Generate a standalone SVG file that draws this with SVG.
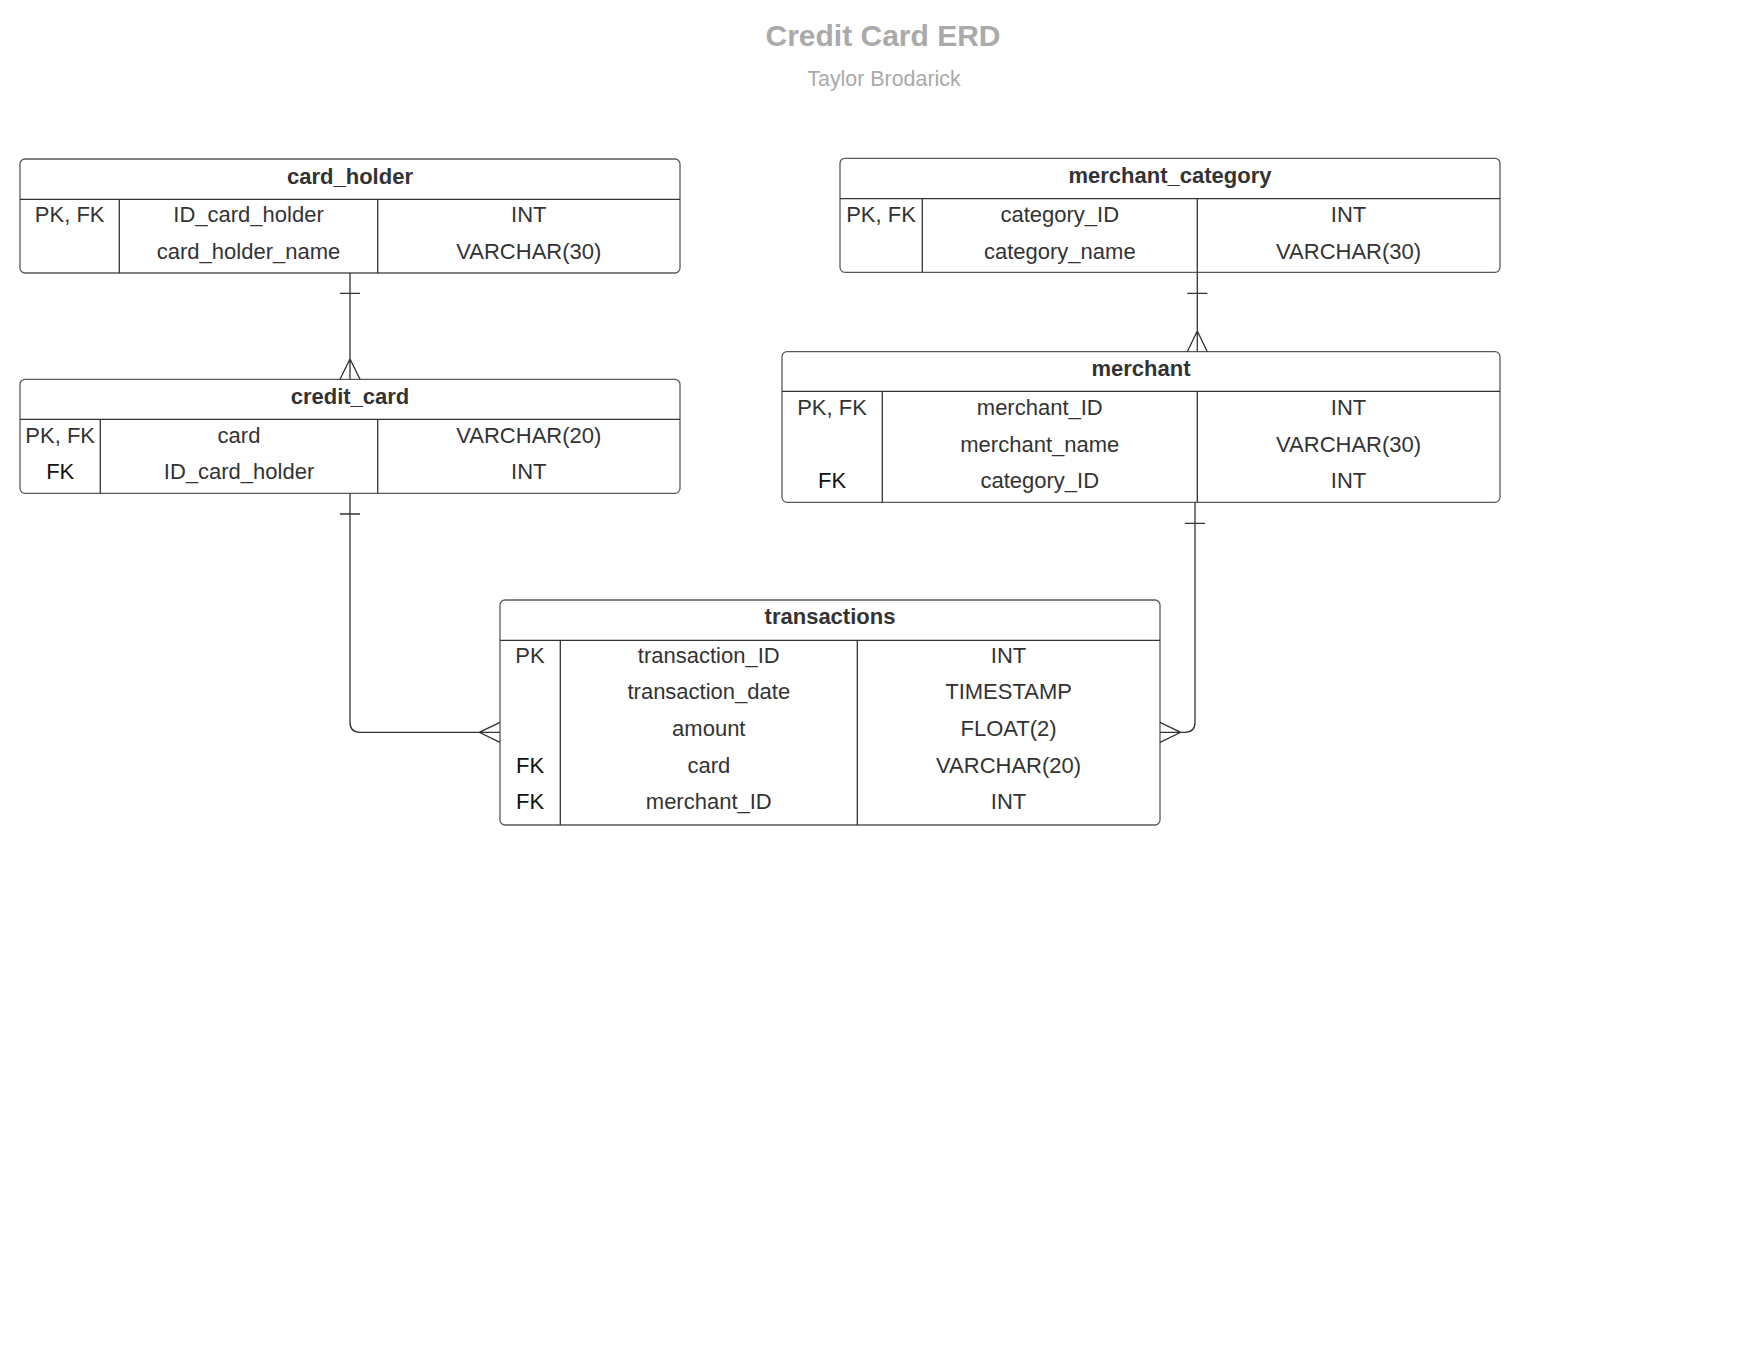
<svg xmlns="http://www.w3.org/2000/svg" width="1760" height="1360" viewBox="0 0 1760 1360">
<style>
.box{fill:#fff;stroke:#5a5a5a;stroke-width:1.3}
.ln{stroke:#333;stroke-width:1.3;fill:none}
.hd{font-family:"Liberation Sans",Arial,sans-serif;font-size:22px;font-weight:bold;fill:#333;text-anchor:middle}
.tx{font-family:"Liberation Sans",Arial,sans-serif;font-size:22px;fill:#333;text-anchor:middle}
.fk{fill:#111}
.cn{stroke:#333;stroke-width:1.3;fill:none}
</style>
<rect width="1760" height="1360" fill="#fff"/>
<g id="title">
<text x="883" y="46" font-family="Liberation Sans, Arial, sans-serif" font-size="30" font-weight="bold" fill="#aaaaaa" text-anchor="middle">Credit Card ERD</text>
<text x="884" y="86" font-family="Liberation Sans, Arial, sans-serif" font-size="21.4" fill="#aaaaaa" text-anchor="middle">Taylor Brodarick</text>
</g>
<g id="card_holder">
<rect class="box" x="20" y="159" width="660" height="114" rx="5"/>
<line class="ln" x1="20" y1="199.3" x2="680" y2="199.3"/>
<line class="ln" x1="119.3" y1="199.3" x2="119.3" y2="273"/>
<line class="ln" x1="377.7" y1="199.3" x2="377.7" y2="273"/>
<text class="hd" x="350" y="183.5">card_holder</text>
<text class="tx" x="69.7" y="222.3">PK, FK</text>
<text class="tx" x="248.5" y="222.3">ID_card_holder</text>
<text class="tx" x="528.8" y="222.3">INT</text>
<text class="tx" x="248.5" y="259.3">card_holder_name</text>
<text class="tx" x="528.8" y="259.3">VARCHAR(30)</text>
</g>
<g id="credit_card">
<rect class="box" x="20" y="379.3" width="660" height="114" rx="5"/>
<line class="ln" x1="20" y1="419.3" x2="680" y2="419.3"/>
<line class="ln" x1="100.3" y1="419.3" x2="100.3" y2="493.3"/>
<line class="ln" x1="377.7" y1="419.3" x2="377.7" y2="493.3"/>
<text class="hd" x="350" y="403.5">credit_card</text>
<text class="tx" x="60.2" y="442.7">PK, FK</text>
<text class="tx" x="239" y="442.7">card</text>
<text class="tx" x="528.8" y="442.7">VARCHAR(20)</text>
<text class="tx fk" x="60.2" y="479.3">FK</text>
<text class="tx" x="239" y="479.3">ID_card_holder</text>
<text class="tx" x="528.8" y="479.3">INT</text>
</g>
<g id="merchant_category">
<rect class="box" x="840" y="158.3" width="660" height="114" rx="5"/>
<line class="ln" x1="840" y1="198.7" x2="1500" y2="198.7"/>
<line class="ln" x1="922.3" y1="198.7" x2="922.3" y2="272.3"/>
<line class="ln" x1="1197.3" y1="198.7" x2="1197.3" y2="272.3"/>
<text class="hd" x="1170" y="182.5">merchant_category</text>
<text class="tx" x="881" y="222">PK, FK</text>
<text class="tx" x="1059.8" y="222">category_ID</text>
<text class="tx" x="1348.6" y="222">INT</text>
<text class="tx" x="1059.8" y="259">category_name</text>
<text class="tx" x="1348.6" y="259">VARCHAR(30)</text>
</g>
<g id="merchant">
<rect class="box" x="782" y="351.7" width="718" height="150.6" rx="5"/>
<line class="ln" x1="782" y1="391.3" x2="1500" y2="391.3"/>
<line class="ln" x1="882.3" y1="391.3" x2="882.3" y2="502.3"/>
<line class="ln" x1="1197.3" y1="391.3" x2="1197.3" y2="502.3"/>
<text class="hd" x="1141" y="375.7">merchant</text>
<text class="tx" x="832" y="415">PK, FK</text>
<text class="tx" x="1039.8" y="415">merchant_ID</text>
<text class="tx" x="1348.6" y="415">INT</text>
<text class="tx" x="1039.8" y="451.7">merchant_name</text>
<text class="tx" x="1348.6" y="451.7">VARCHAR(30)</text>
<text class="tx fk" x="832" y="488.3">FK</text>
<text class="tx" x="1039.8" y="488.3">category_ID</text>
<text class="tx" x="1348.6" y="488.3">INT</text>
</g>
<g id="transactions">
<rect class="box" x="500" y="600" width="660" height="225" rx="5"/>
<line class="ln" x1="500" y1="640.3" x2="1160" y2="640.3"/>
<line class="ln" x1="560.3" y1="640.3" x2="560.3" y2="825"/>
<line class="ln" x1="857.3" y1="640.3" x2="857.3" y2="825"/>
<text class="hd" x="830" y="624.2">transactions</text>
<text class="tx" x="530" y="662.7">PK</text>
<text class="tx" x="708.8" y="662.7">transaction_ID</text>
<text class="tx" x="1008.6" y="662.7">INT</text>
<text class="tx" x="708.8" y="699.3">transaction_date</text>
<text class="tx" x="1008.6" y="699.3">TIMESTAMP</text>
<text class="tx" x="708.8" y="736">amount</text>
<text class="tx" x="1008.6" y="736">FLOAT(2)</text>
<text class="tx fk" x="530" y="772.7">FK</text>
<text class="tx" x="708.8" y="772.7">card</text>
<text class="tx" x="1008.6" y="772.7">VARCHAR(20)</text>
<text class="tx fk" x="530" y="809.3">FK</text>
<text class="tx" x="708.8" y="809.3">merchant_ID</text>
<text class="tx" x="1008.6" y="809.3">INT</text>
</g>
<g id="connectors">
<path class="cn" d="M350 273 V379.3 M340 293.3 H360 M340 379.3 L350 359 L360 379.3"/>
<path class="cn" d="M1197.3 272.3 V351.7 M1187.3 293.3 H1207.3 M1187.3 351.7 L1197.3 331 L1207.3 351.7"/>
<path class="cn" d="M350 493.3 V722.3 Q350 732.3 360 732.3 H500 M340 514 H360 M500 722.3 L479.3 732.3 L500 742.3"/>
<path class="cn" d="M1195 502.3 V722.3 Q1195 732.3 1185 732.3 H1160 M1185 523.3 H1205 M1160 722.3 L1180.7 732.3 L1160 742.3"/>
</g>
</svg>
